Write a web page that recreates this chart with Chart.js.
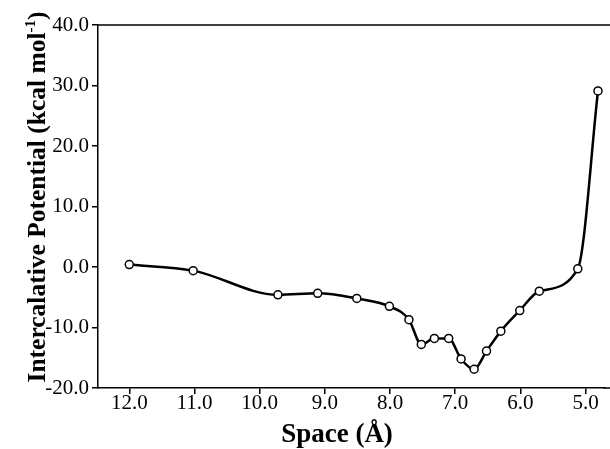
<!DOCTYPE html>
<html>
<head>
<meta charset="utf-8">
<script src="https://cdn.jsdelivr.net/npm/chart.js@4"></script>
<style>
  html, body { margin: 0; padding: 0; background: #fff; }
  canvas { display: block; }
</style>
</head>
<body>
<canvas id="myChart" width="610" height="449"></canvas>
<script>
// data block
const spaceValues = [12.0, 11.02, 9.72, 9.11, 8.51, 8.01, 7.71, 7.52, 7.32, 7.10, 6.91, 6.71, 6.52, 6.30, 6.01, 5.71, 5.12, 4.81];
const potentialValues = [0.4, -0.6, -4.6, -4.35, -5.2, -6.5, -8.7, -12.8, -11.8, -11.8, -15.2, -16.9, -13.9, -10.6, -7.2, -4.0, -0.3, 29.1];
const xTicks = [12, 11, 10, 9, 8, 7, 6, 5];
const yTicks = [-20, -10, 0, 10, 20, 30, 40];
const xTitle = "Space (Å)";
const yTitle = "Intercalative Potential (kcal mol";
const yTitleSup = "-1";

const points = spaceValues.map((x, i) => ({ x: x, y: potentialValues[i] }));

const tickFont = { family: "Liberation Serif", size: 21 };

// plugin - top frame line, axis line to the edge and axis titles
const framePlugin = {
  id: "frame",
  afterDraw(chart) {
    const { ctx, chartArea } = chart;
    ctx.save();
    ctx.strokeStyle = "#000";
    ctx.lineWidth = 1.5;
    ctx.beginPath();
    ctx.moveTo(chartArea.left, chartArea.top);
    ctx.lineTo(chart.width, chartArea.top);
    ctx.moveTo(chartArea.right - 1, chartArea.bottom);
    ctx.lineTo(chart.width, chartArea.bottom);
    ctx.stroke();

    // x title
    ctx.fillStyle = "#000";
    ctx.font = "bold 27px 'Liberation Serif'";
    ctx.textAlign = "center";
    ctx.textBaseline = "alphabetic";
    ctx.fillText(xTitle, 337, 442);

    // y title with superscript
    ctx.translate(45, 197);
    ctx.rotate(-Math.PI / 2);
    const mainFont = "bold 25.5px 'Liberation Serif'";
    const supFont = "bold 15px 'Liberation Serif'";
    ctx.font = mainFont;
    const w1 = ctx.measureText(yTitle).width;
    const w3 = ctx.measureText(")").width;
    ctx.font = supFont;
    const w2 = ctx.measureText(yTitleSup).width;
    let x0 = -(w1 + w2 + w3) / 2;
    ctx.textAlign = "left";
    ctx.font = mainFont;
    ctx.fillText(yTitle, x0, 0);
    ctx.font = supFont;
    ctx.fillText(yTitleSup, x0 + w1, -10);
    ctx.font = mainFont;
    ctx.fillText(")", x0 + w1 + w2, 0);
    ctx.restore();
  },
};

// config block
const config = {
  type: "scatter",
  data: {
    datasets: [
      {
        data: points,
        showLine: true,
        borderColor: "#000",
        borderWidth: 2.5,
        cubicInterpolationMode: "monotone",
        pointStyle: "circle",
        pointRadius: 4,
        pointBorderWidth: 1.5,
        pointBorderColor: "#000",
        pointBackgroundColor: "#fff",
        clip: false,
      },
    ],
  },
  options: {
    responsive: false,
    animation: false,
    layout: { padding: { top: 25, right: 0, left: 0, bottom: 0 } },
    plugins: { legend: { display: false }, tooltip: { enabled: false } },
    scales: {
      x: {
        type: "linear",
        reverse: true,
        min: 4.71,
        max: 12.48,
        afterFit(scale) {
          scale.height = 61;
        },
        afterBuildTicks(scale) {
          scale.ticks = xTicks.map((v) => ({ value: v }));
        },
        ticks: {
          font: tickFont,
          color: "#000",
          padding: -3,
          maxRotation: 0,
          callback: (v) => Number(v).toFixed(1),
        },
        grid: { display: true, drawOnChartArea: false, drawTicks: true, tickLength: 6, color: "#000", lineWidth: 1.5 },
        border: { display: true, color: "#000", width: 1.5 },
      },
      y: {
        min: -20,
        max: 40,
        afterFit(scale) {
          scale.width = 98;
        },
        afterBuildTicks(scale) {
          scale.ticks = yTicks.map((v) => ({ value: v }));
        },
        ticks: {
          font: tickFont,
          color: "#000",
          padding: 3,
          callback: (v) => Number(v).toFixed(1),
        },
        grid: { display: true, drawOnChartArea: false, drawTicks: true, tickLength: 6, color: "#000", lineWidth: 1.5 },
        border: { display: true, color: "#000", width: 1.5 },
      },
    },
  },
  plugins: [framePlugin],
};

// render init block
const myChart = new Chart(document.getElementById("myChart"), config);
</script>
</body>
</html>
